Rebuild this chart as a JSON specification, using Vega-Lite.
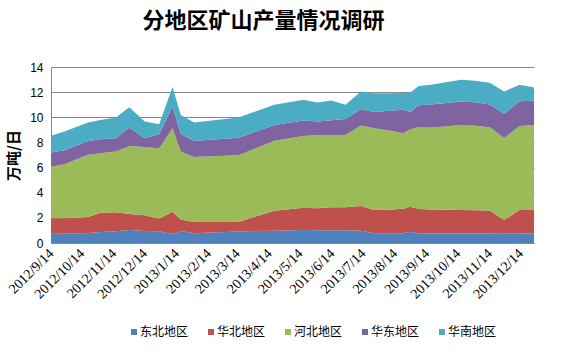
{
  "$schema": "https://vega.github.io/schema/vega-lite/v6.json",
  "autosize": {"type": "none"},
  "width": 483,
  "height": 176,
  "padding": {"left": 51, "top": 67, "right": 37, "bottom": 110},
  "background": "white",
  "title": {
    "text": "分地区矿山产量情况调研",
    "font": "Noto Sans CJK SC",
    "fontSize": 22,
    "fontWeight": "bold",
    "color": "#000000",
    "anchor": "middle",
    "dx": -29,
    "offset": 28
  },
  "data": {"values": [
    {"d":"2012/09/14","r":"东北地区","k":1,"v":0.74},{"d":"2012/09/14","r":"华北地区","k":2,"v":1.23},{"d":"2012/09/14","r":"河北地区","k":3,"v":4.10},{"d":"2012/09/14","r":"华东地区","k":4,"v":1.12},{"d":"2012/09/14","r":"华南地区","k":5,"v":1.35},
    {"d":"2012/09/27","r":"东北地区","k":1,"v":0.74},{"d":"2012/09/27","r":"华北地区","k":2,"v":1.23},{"d":"2012/09/27","r":"河北地区","k":3,"v":4.30},{"d":"2012/09/27","r":"华东地区","k":4,"v":1.11},{"d":"2012/09/27","r":"华南地区","k":5,"v":1.48},
    {"d":"2012/10/20","r":"东北地区","k":1,"v":0.80},{"d":"2012/10/20","r":"华北地区","k":2,"v":1.27},{"d":"2012/10/20","r":"河北地区","k":3,"v":4.94},{"d":"2012/10/20","r":"华东地区","k":4,"v":1.11},{"d":"2012/10/20","r":"华南地区","k":5,"v":1.46},
    {"d":"2012/11/01","r":"东北地区","k":1,"v":0.88},{"d":"2012/11/01","r":"华北地区","k":2,"v":1.53},{"d":"2012/11/01","r":"河北地区","k":3,"v":4.73},{"d":"2012/11/01","r":"华东地区","k":4,"v":1.12},{"d":"2012/11/01","r":"华南地区","k":5,"v":1.53},
    {"d":"2012/11/16","r":"东北地区","k":1,"v":0.93},{"d":"2012/11/16","r":"华北地区","k":2,"v":1.51},{"d":"2012/11/16","r":"河北地区","k":3,"v":4.83},{"d":"2012/11/16","r":"华东地区","k":4,"v":1.07},{"d":"2012/11/16","r":"华南地区","k":5,"v":1.64},
    {"d":"2012/11/29","r":"东北地区","k":1,"v":1.04},{"d":"2012/11/29","r":"华北地区","k":2,"v":1.27},{"d":"2012/11/29","r":"河北地区","k":3,"v":5.41},{"d":"2012/11/29","r":"华东地区","k":4,"v":1.46},{"d":"2012/11/29","r":"华南地区","k":5,"v":1.62},
    {"d":"2012/12/14","r":"东北地区","k":1,"v":0.96},{"d":"2012/12/14","r":"华北地区","k":2,"v":1.25},{"d":"2012/12/14","r":"河北地区","k":3,"v":5.43},{"d":"2012/12/14","r":"华东地区","k":4,"v":0.70},{"d":"2012/12/14","r":"华南地区","k":5,"v":1.32},
    {"d":"2012/12/28","r":"东北地区","k":1,"v":0.93},{"d":"2012/12/28","r":"华北地区","k":2,"v":1.00},{"d":"2012/12/28","r":"河北地区","k":3,"v":5.58},{"d":"2012/12/28","r":"华东地区","k":4,"v":1.17},{"d":"2012/12/28","r":"华南地区","k":5,"v":0.77},
    {"d":"2013/01/10","r":"东北地区","k":1,"v":0.72},{"d":"2013/01/10","r":"华北地区","k":2,"v":1.77},{"d":"2013/01/10","r":"河北地区","k":3,"v":6.64},{"d":"2013/01/10","r":"华东地区","k":4,"v":1.72},{"d":"2013/01/10","r":"华南地区","k":5,"v":1.55},
    {"d":"2013/01/18","r":"东北地区","k":1,"v":0.96},{"d":"2013/01/18","r":"华北地区","k":2,"v":0.90},{"d":"2013/01/18","r":"河北地区","k":3,"v":5.41},{"d":"2013/01/18","r":"华东地区","k":4,"v":1.42},{"d":"2013/01/18","r":"华南地区","k":5,"v":1.50},
    {"d":"2013/01/31","r":"东北地区","k":1,"v":0.77},{"d":"2013/01/31","r":"华北地区","k":2,"v":0.91},{"d":"2013/01/31","r":"河北地区","k":3,"v":5.17},{"d":"2013/01/31","r":"华东地区","k":4,"v":1.27},{"d":"2013/01/31","r":"华南地区","k":5,"v":1.46},
    {"d":"2013/03/15","r":"东北地区","k":1,"v":0.92},{"d":"2013/03/15","r":"华北地区","k":2,"v":0.76},{"d":"2013/03/15","r":"河北地区","k":3,"v":5.30},{"d":"2013/03/15","r":"华东地区","k":4,"v":1.40},{"d":"2013/03/15","r":"华南地区","k":5,"v":1.60},
    {"d":"2013/04/19","r":"东北地区","k":1,"v":0.98},{"d":"2013/04/19","r":"华北地区","k":2,"v":1.59},{"d":"2013/04/19","r":"河北地区","k":3,"v":5.57},{"d":"2013/04/19","r":"华东地区","k":4,"v":1.25},{"d":"2013/04/19","r":"华南地区","k":5,"v":1.61},
    {"d":"2013/05/17","r":"东北地区","k":1,"v":1.04},{"d":"2013/05/17","r":"华北地区","k":2,"v":1.77},{"d":"2013/05/17","r":"河北地区","k":3,"v":5.71},{"d":"2013/05/17","r":"华东地区","k":4,"v":1.22},{"d":"2013/05/17","r":"华南地区","k":5,"v":1.65},
    {"d":"2013/05/31","r":"东北地区","k":1,"v":1.01},{"d":"2013/05/31","r":"华北地区","k":2,"v":1.75},{"d":"2013/05/31","r":"河北地区","k":3,"v":5.84},{"d":"2013/05/31","r":"华东地区","k":4,"v":1.06},{"d":"2013/05/31","r":"华南地区","k":5,"v":1.51},
    {"d":"2013/06/13","r":"东北地区","k":1,"v":1.01},{"d":"2013/06/13","r":"华北地区","k":2,"v":1.83},{"d":"2013/06/13","r":"河北地区","k":3,"v":5.76},{"d":"2013/06/13","r":"华东地区","k":4,"v":1.17},{"d":"2013/06/13","r":"华南地区","k":5,"v":1.56},
    {"d":"2013/06/27","r":"东北地区","k":1,"v":1.01},{"d":"2013/06/27","r":"华北地区","k":2,"v":1.83},{"d":"2013/06/27","r":"河北地区","k":3,"v":5.76},{"d":"2013/06/27","r":"华东地区","k":4,"v":1.27},{"d":"2013/06/27","r":"华南地区","k":5,"v":1.12},
    {"d":"2013/07/12","r":"东北地区","k":1,"v":0.98},{"d":"2013/07/12","r":"华北地区","k":2,"v":1.97},{"d":"2013/07/12","r":"河北地区","k":3,"v":6.39},{"d":"2013/07/12","r":"华东地区","k":4,"v":1.31},{"d":"2013/07/12","r":"华南地区","k":5,"v":1.40},
    {"d":"2013/07/25","r":"东北地区","k":1,"v":0.77},{"d":"2013/07/25","r":"华北地区","k":2,"v":1.86},{"d":"2013/07/25","r":"河北地区","k":3,"v":6.50},{"d":"2013/07/25","r":"华东地区","k":4,"v":1.30},{"d":"2013/07/25","r":"华南地区","k":5,"v":1.49},
    {"d":"2013/08/08","r":"东北地区","k":1,"v":0.77},{"d":"2013/08/08","r":"华北地区","k":2,"v":1.88},{"d":"2013/08/08","r":"河北地区","k":3,"v":6.29},{"d":"2013/08/08","r":"华东地区","k":4,"v":1.57},{"d":"2013/08/08","r":"华南地区","k":5,"v":1.41},
    {"d":"2013/08/22","r":"东北地区","k":1,"v":0.77},{"d":"2013/08/22","r":"华北地区","k":2,"v":1.96},{"d":"2013/08/22","r":"河北地区","k":3,"v":6.00},{"d":"2013/08/22","r":"华东地区","k":4,"v":1.86},{"d":"2013/08/22","r":"华南地区","k":5,"v":1.35},
    {"d":"2013/08/29","r":"东北地区","k":1,"v":0.90},{"d":"2013/08/29","r":"华北地区","k":2,"v":1.99},{"d":"2013/08/29","r":"河北地区","k":3,"v":6.16},{"d":"2013/08/29","r":"华东地区","k":4,"v":1.38},{"d":"2013/08/29","r":"华南地区","k":5,"v":1.54},
    {"d":"2013/09/06","r":"东北地区","k":1,"v":0.76},{"d":"2013/09/06","r":"华北地区","k":2,"v":1.95},{"d":"2013/09/06","r":"河北地区","k":3,"v":6.50},{"d":"2013/09/06","r":"华东地区","k":4,"v":1.75},{"d":"2013/09/06","r":"华南地区","k":5,"v":1.52},
    {"d":"2013/09/18","r":"东北地区","k":1,"v":0.76},{"d":"2013/09/18","r":"华北地区","k":2,"v":1.91},{"d":"2013/09/18","r":"河北地区","k":3,"v":6.49},{"d":"2013/09/18","r":"华东地区","k":4,"v":1.85},{"d":"2013/09/18","r":"华南地区","k":5,"v":1.57},
    {"d":"2013/10/17","r":"东北地区","k":1,"v":0.76},{"d":"2013/10/17","r":"华北地区","k":2,"v":1.87},{"d":"2013/10/17","r":"河北地区","k":3,"v":6.75},{"d":"2013/10/17","r":"华东地区","k":4,"v":1.87},{"d":"2013/10/17","r":"华南地区","k":5,"v":1.73},
    {"d":"2013/10/31","r":"东北地区","k":1,"v":0.76},{"d":"2013/10/31","r":"华北地区","k":2,"v":1.84},{"d":"2013/10/31","r":"河北地区","k":3,"v":6.72},{"d":"2013/10/31","r":"华东地区","k":4,"v":1.87},{"d":"2013/10/31","r":"华南地区","k":5,"v":1.71},
    {"d":"2013/11/14","r":"东北地区","k":1,"v":0.76},{"d":"2013/11/14","r":"华北地区","k":2,"v":1.83},{"d":"2013/11/14","r":"河北地区","k":3,"v":6.62},{"d":"2013/11/14","r":"华东地区","k":4,"v":1.80},{"d":"2013/11/14","r":"华南地区","k":5,"v":1.73},
    {"d":"2013/11/28","r":"东北地区","k":1,"v":0.74},{"d":"2013/11/28","r":"华北地区","k":2,"v":1.09},{"d":"2013/11/28","r":"河北地区","k":3,"v":6.53},{"d":"2013/11/28","r":"华东地区","k":4,"v":1.93},{"d":"2013/11/28","r":"华南地区","k":5,"v":1.76},
    {"d":"2013/12/13","r":"东北地区","k":1,"v":0.76},{"d":"2013/12/13","r":"华北地区","k":2,"v":1.87},{"d":"2013/12/13","r":"河北地区","k":3,"v":6.67},{"d":"2013/12/13","r":"华东地区","k":4,"v":1.98},{"d":"2013/12/13","r":"华南地区","k":5,"v":1.30},
    {"d":"2013/12/27","r":"东北地区","k":1,"v":0.76},{"d":"2013/12/27","r":"华北地区","k":2,"v":1.87},{"d":"2013/12/27","r":"河北地区","k":3,"v":6.75},{"d":"2013/12/27","r":"华东地区","k":4,"v":1.94},{"d":"2013/12/27","r":"华南地区","k":5,"v":1.04}
  ]},
  "mark": {"type": "area", "interpolate": "linear", "strokeWidth": 0},
  "encoding": {
    "x": {
      "field": "d", "type": "temporal",
      "scale": {"domain": [{"year": 2012, "month": 9, "date": 14}, {"year": 2013, "month": 12, "date": 27}], "nice": false, "padding": 0},
      "axis": {
        "title": null,
        "values": [
          {"year":2012,"month":9,"date":14},{"year":2012,"month":10,"date":14},{"year":2012,"month":11,"date":14},{"year":2012,"month":12,"date":14},
          {"year":2013,"month":1,"date":14},{"year":2013,"month":2,"date":14},{"year":2013,"month":3,"date":14},{"year":2013,"month":4,"date":14},
          {"year":2013,"month":5,"date":14},{"year":2013,"month":6,"date":14},{"year":2013,"month":7,"date":14},{"year":2013,"month":8,"date":14},
          {"year":2013,"month":9,"date":14},{"year":2013,"month":10,"date":14},{"year":2013,"month":11,"date":14},{"year":2013,"month":12,"date":14}
        ],
        "format": "%Y/%-m/%-d",
        "labelAngle": -45,
        "labelAlign": "right",
        "labelBaseline": "middle",
        "labelPadding": 8,
        "labelFont": "Liberation Serif",
        "labelFontSize": 14,
        "labelColor": "#000000",
        "labelOverlap": false,
        "labelBound": false,
        "labelFlush": false,
        "grid": false,
        "ticks": false,
        "domainColor": "#868686",
        "domainWidth": 1
      }
    },
    "y": {
      "field": "v", "type": "quantitative", "stack": "zero",
      "scale": {"domain": [0, 14], "nice": false},
      "axis": {
        "title": "万吨/日",
        "titleFont": "Noto Sans CJK SC",
        "titleFontSize": 15,
        "titleFontWeight": "bold",
        "titleColor": "#000000",
        "titlePadding": 8,
        "values": [0, 2, 4, 6, 8, 10, 12, 14],
        "labelFont": "Liberation Sans",
        "labelFontSize": 12,
        "labelColor": "#000000",
        "labelPadding": 8,
        "ticks": false,
        "grid": true,
        "gridColor": "#868686",
        "gridWidth": 1,
        "domainColor": "#868686",
        "domainWidth": 1
      }
    },
    "color": {
      "field": "r", "type": "nominal",
      "scale": {"domain": ["东北地区", "华北地区", "河北地区", "华东地区", "华南地区"], "range": ["#4F81BD", "#C0504D", "#9BBB59", "#8064A2", "#4BACC6"]},
      "legend": {
        "title": null,
        "orient": "none",
        "legendX": 77,
        "legendY": 259,
        "direction": "horizontal",
        "symbolType": "square",
        "symbolSize": 36,
        "symbolStrokeWidth": 0,
        "labelFont": "Noto Sans CJK SC",
        "labelFontSize": 12,
        "labelColor": "#000000",
        "labelOffset": 0,
        "columnPadding": 16
      }
    },
    "order": {"field": "k", "type": "quantitative"}
  },
  "config": {
    "view": {"stroke": null},
    "axis": {"labelFontWeight": "normal"}
  }
}
